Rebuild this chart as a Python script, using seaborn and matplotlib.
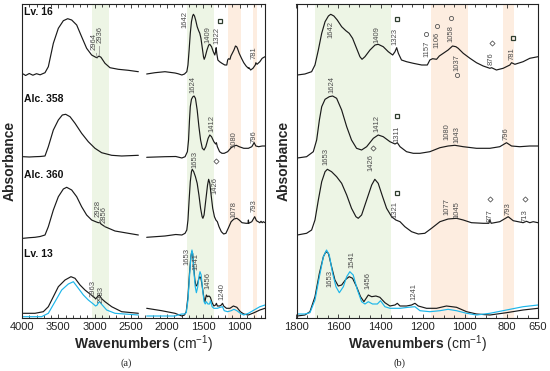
import numpy as np
import pandas as pd
import matplotlib
matplotlib.use("Agg")
import matplotlib.pyplot as plt
import seaborn as sns
from matplotlib.ticker import MultipleLocator

# FTIR spectra: wavenumber (cm-1) and absorbance (a.u., before stacking)
WN_LV16 = [3982, 3950, 3900, 3850, 3800, 3750, 3683, 3637, 3568, 3499, 3430, 3370, 3315, 3246, 3178,
           3109, 3040, 3010, 2985, 2964, 2950, 2936, 2911, 2856, 2787, 2672, 2534, 2396,
           2281, 2167, 2029, 1891, 1850,
           1796, 1760, 1728, 1712, 1696, 1680, 1664, 1648, 1637, 1622, 1606, 1585, 1565, 1549, 1533,
           1514, 1498, 1488, 1474, 1450, 1426, 1411, 1387, 1363, 1342, 1331, 1323, 1315, 1300, 1276,
           1244, 1204, 1177, 1165, 1152, 1133, 1120, 1101, 1078, 1057, 1041, 1030, 1006, 974, 943,
           911, 879, 871, 848, 816, 784, 776, 760, 721, 689, 650]
ABS_LV16 = [4.0, 2.5, 4.5, 2.8, 4.3, 3.2, 5.3, 11.3, 34.7, 49.7, 57.3, 59.3, 58.0, 53.0, 41.3,
            29.7, 23.0, 21.8, 20.8, 20.2, 21.5, 21.8, 20.7, 14.7, 10.3, 8.7, 7.7, 6.3,
            4.0, 5.3, 6.3, 5.0, 4.3,
            3.0, 4.0, 6.3, 13.0, 28.0, 44.7, 56.3, 62.0, 63.7, 62.0, 58.0, 51.3, 47.3, 44.7, 39.7,
            29.7, 21.3, 18.7, 21.3, 28.0, 33.0, 33.7, 31.3, 26.3, 23.0, 26.3, 30.3, 24.7, 18.0, 16.3,
            14.7, 13.0, 13.0, 18.0, 19.3, 18.7, 22.0, 24.7, 28.0, 32.0, 31.3, 29.7, 24.7, 19.7, 15.3,
            12.0, 9.7, 10.3, 8.0, 9.7, 13.0, 15.3, 13.7, 16.3, 19.7, 21.3]

WN_ALC358 = [3982, 3900, 3821, 3750, 3683, 3637, 3568, 3499, 3444, 3398, 3338, 3269, 3178, 3086,
             2994, 2902, 2764, 2626, 2396,
             2281, 2029, 1880,
             1796, 1752, 1720, 1704, 1691, 1680, 1664, 1644, 1628, 1609, 1585, 1561, 1538, 1514,
             1490, 1466, 1434, 1411, 1387, 1355, 1331, 1320, 1307, 1276, 1244, 1212, 1165, 1117,
             1078, 1046, 1006, 943, 879, 832, 800, 776, 737, 689, 650]
ABS_ALC358 = [1.3, 1.0, 1.3, 1.5, 2.0, 11.3, 28.0, 38.0, 43.0, 43.7, 41.3, 34.7, 24.7, 16.3,
              9.7, 5.3, 2.7, 2.0, 2.7,
              0.7, 1.3, 1.5,
              0.0, 1.3, 6.3, 18.0, 38.0, 51.3, 58.7, 61.3, 62.0, 59.7, 48.0, 31.3, 18.0, 9.7,
              8.0, 11.3, 19.7, 23.0, 21.3, 16.3, 14.0, 15.3, 11.3, 6.3, 4.7, 4.7, 6.3, 10.3,
              12.0, 12.7, 11.3, 9.7, 9.7, 11.3, 15.3, 12.0, 11.3, 12.0, 12.0]

WN_ALC360 = [3982, 3900, 3821, 3750, 3683, 3637, 3568, 3499, 3430, 3384, 3315, 3246, 3178, 3109,
             3040, 2984, 2948, 2928, 2911, 2856, 2718, 2534, 2396,
             2281, 2029, 1880,
             1796, 1752, 1728, 1712, 1696, 1680, 1664, 1653, 1633, 1609, 1585, 1561, 1538, 1517,
             1506, 1490, 1466, 1442, 1427, 1411, 1390, 1371, 1347, 1327, 1307, 1284, 1252, 1220,
             1189, 1157, 1117, 1078, 1038, 1006, 967, 911, 884, 879, 873, 832, 792, 768, 721, 705,
             689, 673, 650]
ABS_ALC360 = [-0.3, 0.3, 0.7, 1.5, 3.0, 11.3, 28.0, 41.3, 49.0, 50.7, 48.0, 41.3, 31.3, 23.0,
              18.0, 16.3, 15.3, 15.5, 14.0, 11.3, 7.0, 4.7, 3.0,
              0.7, 2.0, 3.5,
              3.0, 4.7, 8.0, 18.0, 38.0, 56.3, 66.3, 68.7, 66.3, 61.3, 54.7, 43.0, 29.7, 21.3,
              19.7, 23.0, 38.0, 53.0, 58.7, 54.7, 41.3, 29.7, 21.3, 18.0, 16.3, 11.3, 6.3, 4.0,
              4.7, 9.7, 16.3, 19.0, 19.7, 18.0, 15.3, 14.7, 14.7, 18.0, 14.7, 16.3, 21.3, 17.3, 15.3, 16.7,
              15.3, 16.3, 15.3]

WN_LV13 = [3982, 3900, 3821, 3706, 3637, 3568, 3499, 3407, 3325, 3269, 3200, 3132, 3063, 3017,
           3000, 2985, 2963, 2950, 2933, 2905, 2856, 2764, 2626, 2396,
           2281, 2075, 1891, 1850,
           1796, 1760, 1736, 1712, 1691, 1672, 1660, 1648, 1633, 1617, 1601, 1585, 1565, 1549,
           1533, 1514, 1495, 1479, 1458, 1442, 1422, 1403, 1379, 1355, 1331, 1320, 1307, 1276,
           1252, 1236, 1220, 1181, 1133, 1086, 1038, 990, 943, 879, 800, 721, 650]
ABS_LV13 = [4.7, 4.7, 4.7, 6.3, 11.3, 21.3, 31.3, 38.0, 41.3, 39.7, 33.0, 28.0, 24.0, 21.3,
            20.5, 19.0, 21.0, 22.0, 23.0, 19.5, 16.3, 11.3, 6.3, 4.7,
            9.7, 7.3, 4.7, 3.5,
            2.0, 3.0, 6.3, 21.3, 44.7, 61.3, 66.3, 64.7, 51.3, 38.0, 32.0, 33.0, 38.7, 41.3,
            39.7, 31.3, 21.3, 16.3, 23.0, 21.3, 22.0, 20.7, 15.3, 12.0, 13.0, 14.7, 12.0, 12.0,
            13.0, 14.7, 12.0, 9.7, 9.7, 12.0, 10.7, 6.3, 4.0, 3.0, 5.3, 8.0, 9.7]

WN_LV13_B = [3982, 3900, 3730, 3637, 3545, 3453, 3361, 3292, 3223, 3154, 3086, 3017, 2985, 2963,
             2950, 2933, 2900, 2833, 2718, 2396,
             2281, 1891, 1850,
             1796, 1760, 1736, 1712, 1691, 1672, 1657, 1644, 1628, 1612, 1596, 1577, 1561, 1546,
             1530, 1511, 1490, 1474, 1458, 1438, 1415, 1400, 1379, 1355, 1307, 1268, 1236, 1212,
             1165, 1117, 1078, 1038, 990, 943, 879, 800, 721, 650]
ABS_LV13_B = [1.3, 1.3, 1.3, 4.7, 16.3, 28.0, 34.0, 36.3, 29.7, 23.0, 18.0, 14.0, 12.0, 13.0,
              15.0, 16.3, 13.5, 8.0, 4.7, 3.0,
              2.0, 2.0, 3.0,
              4.0, 4.0, 5.3, 18.0, 41.3, 61.3, 68.0, 63.0, 44.7, 31.3, 25.3, 31.3, 41.3, 46.3,
              43.0, 28.7, 16.3, 14.0, 16.3, 14.0, 14.0, 17.3, 11.3, 9.7, 9.7, 10.7, 11.3, 7.3,
              6.3, 7.3, 8.7, 7.3, 4.7, 3.0, 4.7, 8.0, 11.3, 13.0]

SAMPLES = ["Lv. 16", "Alc. 358", "Alc. 360", "Lv. 13", "Lv. 13 b"]
OFFSETS = [240, 160, 80, 0, 0]
COLORS = ["#1a1a1a", "#1a1a1a", "#1a1a1a", "#1a1a1a", "#1cb6ea"]
SPECTRA = [(WN_LV16, ABS_LV16), (WN_ALC358, ABS_ALC358), (WN_ALC360, ABS_ALC360),
           (WN_LV13, ABS_LV13), (WN_LV13_B, ABS_LV13_B)]
CO2_CUT = 2340  # spectra are cut around the CO2 band

GREEN = "#edf5e5"
ORANGE = "#fdede0"
BANDS_A = [(3030, 2800, GREEN), (1720, 1495, GREEN), (1485, 1350, GREEN),
           (1160, 985, ORANGE), (818, 765, ORANGE)]
BANDS_B = [(1710, 1350, GREEN), (1160, 985, ORANGE), (818, 765, ORANGE)]

# sample names, band labels (x, y, text, leader target or None)
NAME_POS = [(3968, 306), (3968, 218.5), (3968, 142.7), (3968, 64.2)]
ANNOT_A = [(3005, 268, "2964", (2964, 260.5)), (2922, 275, "2936", (2936, 262.0)),
           (1753, 290, "1642", None), (1440, 275, "1409", None), (1312, 274, "1322", None),
           (797, 259, "781", None),
           (1638, 225, "1624", None), (1385, 186, "1412", None), (1073, 170, "1080", None),
           (797, 175, "796", None),
           (1615, 150, "1653", None), (1340, 124, "1426", None), (1073, 100, "1078", None),
           (797, 106, "793", None), (2948, 101, "2928", (2928, 95.5)), (2865, 95, "2856", (2856, 91.3)),
           (1730, 53, "1653", None), (1601, 48, "1541", None), (1431, 29, "1456", None),
           (1238, 18, "1240", None), (3017, 21, "2963", None), (2911, 15, "2933", None)]
ANNOT_B = [(1637, 297, "1642", "top"), (1415, 275, "1409", "bottom"), (1330, 273, "1323", "bottom"),
           (1181, 261, "1157", "bottom"), (1133, 270, "1106", "bottom"), (1066, 276, "1058", "bottom"),
           (1038, 247, "1037", "bottom"), (871, 253, "876", "bottom"), (771, 258, "781", "bottom"),
           (1633, 225, "1624", "bottom"), (1415, 186, "1412", "bottom"), (1320, 176, "1311", "bottom"),
           (1085, 178, "1080", "bottom"), (1035, 175, "1043", "bottom"), (800, 178, "796", "bottom"),
           (1446, 147, "1426", "bottom"),
           (1660, 153, "1653", "bottom"), (1330, 100, "1321", "bottom"), (1085, 103, "1077", "bottom"),
           (1038, 100, "1045", "bottom"), (879, 96, "877", "bottom"), (792, 103, "793", "bottom"),
           (713, 96, "713", "bottom"),
           (1641, 48, "1653", "top"), (1538, 50, "1541", "bottom"), (1458, 29, "1456", "bottom"),
           (1241, 18, "1241", "bottom")]
SQUARES_A = [(1271, 297.3)]
DIAMONDS_A = [(1326, 157)]
SQUARES_B = [(1320, 298.7), (771, 279.7), (1320, 202.3), (1320, 125.3)]
CIRCLES_B = [(1181, 283.7), (1133, 292.3), (1066, 300.3), (1038, 243.3)]
DIAMONDS_B = [(871, 275.3), (1438, 170.3), (879, 119), (713, 119)]

sns.set_theme(style="ticks")
plt.rcParams['font.family'] = ['Liberation Sans', 'DejaVu Sans']
plt.rcParams['mathtext.fontset'] = 'custom'
plt.rcParams['mathtext.rm'] = 'Liberation Sans'
plt.rcParams['mathtext.it'] = 'Liberation Sans:italic'

rows = []
for name, off, (wn, ab) in zip(SAMPLES, OFFSETS, SPECTRA):
    for w, a in zip(wn, ab):
        rows.append({"sample": name, "wn": w, "absorbance": a + off,
                     "seg": f"{name}-{int(w < CO2_CUT)}"})
df = pd.DataFrame(rows)

fig = plt.figure(figsize=(5.5, 3.71), dpi=100)
ax_a = fig.add_axes([22 / 550, 1 - 318 / 371, 243 / 550, 314 / 371])
ax_b = fig.add_axes([296.5 / 550, 1 - 318 / 371, 241.5 / 550, 314 / 371])

txt_col = "#4d4d4d"
ann_size = 5.5
for ax, bands in ((ax_a, BANDS_A), (ax_b, BANDS_B)):
    for lo, hi, c in bands:
        ax.axvspan(hi, lo, color=c, lw=0, zorder=0)
    for name, c in zip(SAMPLES, COLORS):
        sns.lineplot(data=df[df["sample"] == name], x="wn", y="absorbance", units="seg",
                     estimator=None, sort=False, color=c, lw=0.85, ax=ax, legend=False)
    ax.set_ylim(0, 314)
    ax.set_yticks([])
    ax.tick_params(axis="x", which="both", direction="in", top=True, labelsize=8, pad=3, width=0.6)
    ax.tick_params(axis="x", which="major", length=3)
    ax.tick_params(axis="x", which="minor", length=2)
    for sp in ax.spines.values():
        sp.set_linewidth(0.8)
        sp.set_color("#222222")
    ax.set_xlabel("Wavenumbers $\\mathrm{(cm^{-1})}$", fontsize=10, fontweight="bold", labelpad=1)
    ax.set_ylabel("Absorbance", fontsize=10, fontweight="bold", labelpad=4)

ax_a.set_xlim(4000, 650)
ax_a.set_xticks([4000, 3500, 3000, 2500, 2000, 1500, 1000])
ax_a.xaxis.set_minor_locator(MultipleLocator(100))
ax_b.set_xlim(1800, 650)
ax_b.set_xticks([1800, 1600, 1400, 1200, 1000, 800, 650])
ax_b.xaxis.set_minor_locator(MultipleLocator(50))

for (x, y), name in zip(NAME_POS, SAMPLES[:4]):
    ax_a.text(x, y, name, fontsize=7.5, fontweight="bold", ha="left", va="center", color="#111111")

for x, y, s, target in ANNOT_A:
    if target is None:
        ax_a.text(x, y, s, rotation=90, ha="center", va="bottom", fontsize=ann_size, color=txt_col)
    else:
        ax_a.annotate(s, xy=target, xytext=(x, y), rotation=90, ha="center", va="bottom",
                      fontsize=ann_size, color=txt_col,
                      arrowprops=dict(arrowstyle="-", color="#8a8a8a", lw=0.5, shrinkA=0, shrinkB=0))
for x, y, s, va in ANNOT_B:
    ax_b.text(x, y, s, rotation=90, ha="center", va=va, fontsize=ann_size, color=txt_col)

sq = dict(marker="s", ms=3.4, mfc="none", mec="#2e3d2e", mew=0.9, ls="none")
ci = dict(marker="o", ms=3.0, mfc="none", mec="#555555", mew=0.6, ls="none")
di = dict(marker="D", ms=2.6, mfc="none", mec="#555555", mew=0.6, ls="none")
for ax, pts, st in ((ax_a, SQUARES_A, sq), (ax_a, DIAMONDS_A, di), (ax_b, SQUARES_B, sq),
                    (ax_b, CIRCLES_B, ci), (ax_b, DIAMONDS_B, di)):
    xs, ys = zip(*pts)
    ax.plot(xs, ys, **st)

fig.text(126 / 550, 1 - 363 / 371, "(a)", fontsize=7.5, ha="center", va="center",
         family=["Liberation Serif", "DejaVu Serif"])
fig.text(400 / 550, 1 - 363 / 371, "(b)", fontsize=7.5, ha="center", va="center",
         family=["Liberation Serif", "DejaVu Serif"])

fig.savefig("out.png", dpi=100)
